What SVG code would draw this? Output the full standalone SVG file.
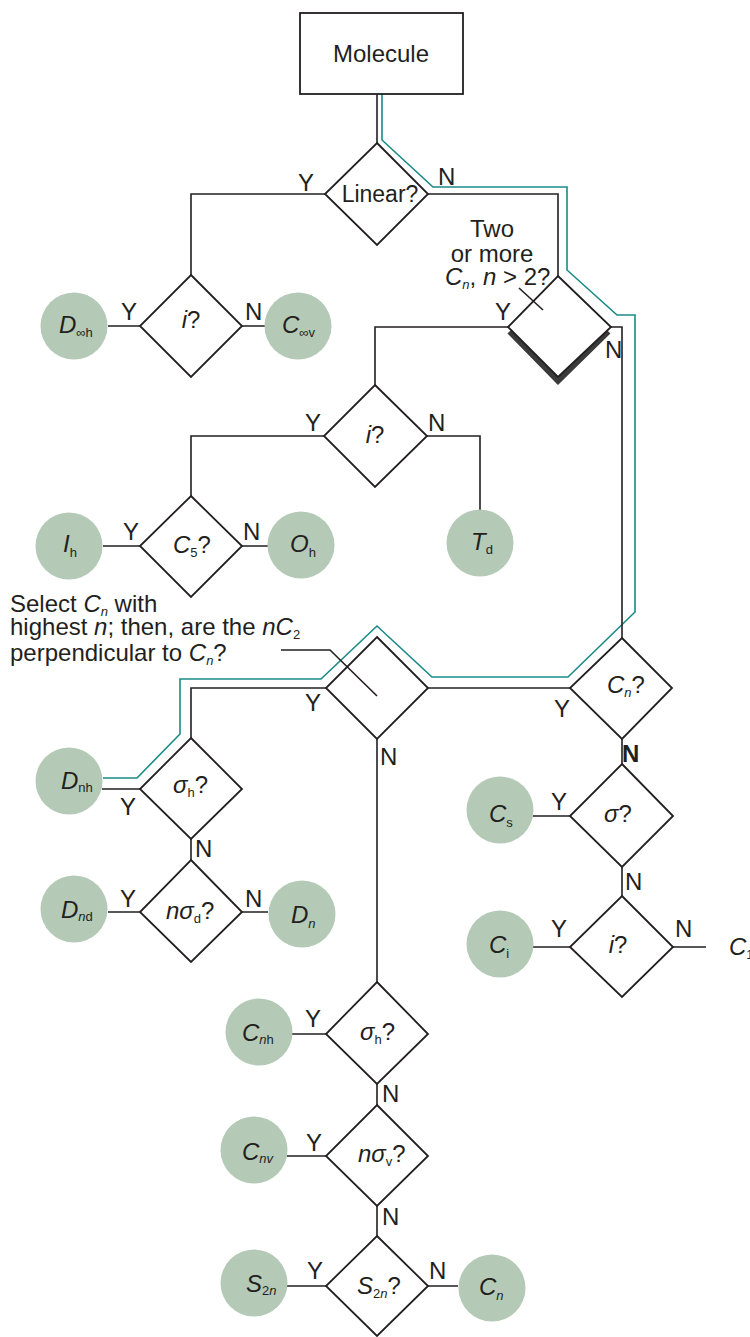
<svg xmlns="http://www.w3.org/2000/svg" width="750" height="1337" viewBox="0 0 750 1337">
<style>
text{font-family:"Liberation Sans",Arial,sans-serif;font-size:24px;fill:#231f20}
.it{font-style:italic}
.sub{font-size:13px}
.d{fill:#fff;stroke:#231f20;stroke-width:1.8}
.c{fill:#b4cab6}
.ln{fill:none;stroke:#231f20;stroke-width:1.6}
.teal{fill:none;stroke:#1b8a87;stroke-width:1.6}
</style>
<rect width="750" height="1337" fill="#fff"/>
<g id="connectors">
<path class="teal" d="M382,94 V140 L433,187 H567 V270 L617,315 H635 V612 L568,677 H432 L377,626 L321,679 H180 V734 L137,778 H103"/>
<path class="ln" d="M377,94 V143"/>
<path class="ln" d="M325,194 H191 V275"/>
<path class="ln" d="M140,326 H108 M242,326 H265"/>
<path class="ln" d="M428,194 H558 V276"/>
<path class="ln" d="M508,327 H375 V385"/>
<path class="ln" d="M611,327 H622 V638"/>
<path class="ln" d="M324,436 H191 V496 M427,436 H480 V510"/>
<path class="ln" d="M140,546 H103 M242,546 H268"/>
<path class="ln" d="M570,688 H428"/>
<path class="ln" d="M326,688 H191 V738"/>
<path class="ln" d="M140,789 H102 M191,839 V860"/>
<path class="ln" d="M140,912 H108 M242,912 H268"/>
<path class="ln" d="M622,739 V764 M570,816 H533 M622,867 V896"/>
<path class="ln" d="M570,947 H533 M673,947 H706"/>
<path class="ln" d="M377,739 V982"/>
<path class="ln" d="M326,1034 H292 M377,1084 V1105"/>
<path class="ln" d="M326,1156 H287 M377,1206 V1236"/>
<path class="ln" d="M326,1286 H287 M428,1286 H458"/>
</g>
<g id="molecule"><rect x="300" y="13" width="163" height="81" fill="#fff" stroke="#231f20" stroke-width="1.8"/><text x="381" y="62" text-anchor="middle">Molecule</text></g>
<g id="linear"><polygon class="d" points="377,143 428,194 377,245 325,194"/><text x="380" y="202" text-anchor="middle" style="font-size:23px">Linear?</text>
<text x="298" y="191">Y</text><text x="438" y="185">N</text></g>
<g id="inv1"><polygon class="d" points="191,275 242,326 191,377 140,326"/><text x="191" y="328" text-anchor="middle"><tspan class="it">i</tspan>?</text>
<text x="121" y="320">Y</text><text x="245" y="320">N</text></g>
<g id="dinfh"><circle class="c" cx="74" cy="326" r="33.5"/><text x="59" y="333"><tspan class="it">D</tspan><tspan class="sub" dy="4">∞h</tspan></text></g>
<g id="cinfv"><circle class="c" cx="298" cy="326" r="33.5"/><text x="282" y="333"><tspan class="it">C</tspan><tspan class="sub" dy="4">∞v</tspan></text></g>
<g id="twomore">
<polyline points="510,331 558,380 608,331" fill="none" stroke="#3a3a3a" stroke-width="7"/>
<polygon class="d" points="558,276 611,327 558,377 508,327"/>
<text x="492" y="237" text-anchor="middle">Two</text>
<text x="492" y="262" text-anchor="middle">or more</text>
<text x="445" y="285"><tspan class="it">C</tspan><tspan class="sub it" dy="4">n</tspan><tspan dy="-4">, </tspan><tspan class="it">n</tspan> &gt; 2?</text>
<path class="ln" d="M519,288 L543,310"/>
<text x="495" y="320">Y</text><text x="605" y="358">N</text></g>
<g id="inv2"><polygon class="d" points="375,385 427,436 375,487 324,436"/><text x="375" y="443" text-anchor="middle"><tspan class="it">i</tspan>?</text>
<text x="305" y="431">Y</text><text x="428" y="431">N</text></g>
<g id="td"><circle class="c" cx="480" cy="543" r="33.5"/><text x="471" y="550"><tspan class="it">T</tspan><tspan class="sub" dy="4">d</tspan></text></g>
<g id="c5"><polygon class="d" points="191,496 242,546 191,597 140,546"/><text x="173" y="553"><tspan class="it">C</tspan><tspan class="sub" dy="4">5</tspan><tspan dy="-4">?</tspan></text>
<text x="123" y="540">Y</text><text x="243" y="540">N</text></g>
<g id="ih"><circle class="c" cx="69" cy="546" r="33.5"/><text x="63" y="552"><tspan class="it">I</tspan><tspan class="sub" dy="5">h</tspan></text></g>
<g id="oh"><circle class="c" cx="301" cy="545" r="33.5"/><text x="290" y="552"><tspan class="it">O</tspan><tspan class="sub" dy="5">h</tspan></text></g>
<g id="select">
<text x="10" y="612">Select <tspan class="it">C</tspan><tspan class="sub it" dy="4">n</tspan><tspan dy="-4"> with</tspan></text>
<text x="10" y="635">highest <tspan class="it">n</tspan>; then, are the <tspan class="it">nC</tspan><tspan class="sub" dy="4">2</tspan></text>
<text x="10" y="661">perpendicular to <tspan class="it">C</tspan><tspan class="sub it" dy="4">n</tspan><tspan dy="-4">?</tspan></text>
<polygon class="d" points="377,637 428,688 377,739 326,688"/>
<path class="ln" d="M281,650 H330 L377,696"/>
<text x="305" y="711">Y</text><text x="380" y="765">N</text></g>
<g id="cnq"><polygon class="d" points="622,638 672,688 622,739 570,688"/><text x="607" y="693"><tspan class="it">C</tspan><tspan class="sub it" dy="4">n</tspan><tspan dy="-4">?</tspan></text>
<text x="554" y="717">Y</text><text x="622" y="762" font-weight="bold">N</text></g>
<g id="sigmah1"><polygon class="d" points="191,738 242,789 191,839 140,789"/><text x="173" y="793"><tspan class="it">σ</tspan><tspan class="sub" dy="4">h</tspan><tspan dy="-4">?</tspan></text>
<text x="120" y="815">Y</text><text x="195" y="857">N</text></g>
<g id="dnh"><circle class="c" cx="69" cy="781" r="33.5"/><text x="61" y="789"><tspan class="it">D</tspan><tspan class="sub" dy="3">nh</tspan></text></g>
<g id="nsigmad"><polygon class="d" points="191,860 242,912 191,962 140,912"/><text x="166" y="919"><tspan class="it">nσ</tspan><tspan class="sub" dy="4">d</tspan><tspan dy="-4">?</tspan></text>
<text x="120" y="907">Y</text><text x="245" y="907">N</text></g>
<g id="dnd"><circle class="c" cx="74" cy="909" r="33.5"/><text x="61" y="918"><tspan class="it">D</tspan><tspan class="sub" dy="3"><tspan class="it">n</tspan>d</tspan></text></g>
<g id="dn"><circle class="c" cx="302" cy="914" r="33.5"/><text x="291" y="923"><tspan class="it">D</tspan><tspan class="sub it" dy="5">n</tspan></text></g>
<g id="sigma"><polygon class="d" points="622,764 673,816 622,867 570,816"/><text x="618" y="822" text-anchor="middle"><tspan class="it">σ</tspan>?</text>
<text x="551" y="810">Y</text><text x="625" y="890">N</text></g>
<g id="cs"><circle class="c" cx="500" cy="810" r="33.5"/><text x="489" y="822"><tspan class="it">C</tspan><tspan class="sub" dy="5">s</tspan></text></g>
<g id="inv3"><polygon class="d" points="622,896 673,947 622,997 570,947"/><text x="618" y="953" text-anchor="middle"><tspan class="it">i</tspan>?</text>
<text x="551" y="937">Y</text><text x="675" y="937">N</text></g>
<g id="ci"><circle class="c" cx="500" cy="944" r="33.5"/><text x="489" y="953"><tspan class="it">C</tspan><tspan class="sub" dy="5">i</tspan></text></g>
<g id="c1"><text x="729" y="955"><tspan class="it">C</tspan><tspan class="sub" dy="4">1</tspan></text></g>
<g id="sigmah2"><polygon class="d" points="377,982 428,1034 377,1084 326,1034"/><text x="360" y="1040"><tspan class="it">σ</tspan><tspan class="sub" dy="4">h</tspan><tspan dy="-4">?</tspan></text>
<text x="305" y="1027">Y</text><text x="382" y="1102">N</text></g>
<g id="cnh"><circle class="c" cx="259" cy="1032" r="33.5"/><text x="242" y="1041"><tspan class="it">C</tspan><tspan class="sub" dy="3"><tspan class="it">n</tspan>h</tspan></text></g>
<g id="nsigmav"><polygon class="d" points="377,1105 428,1156 377,1206 326,1156"/><text x="358" y="1162"><tspan class="it">nσ</tspan><tspan class="sub" dy="4">v</tspan><tspan dy="-4">?</tspan></text>
<text x="306" y="1151">Y</text><text x="382" y="1225">N</text></g>
<g id="cnv"><circle class="c" cx="254" cy="1150" r="33.5"/><text x="242" y="1160"><tspan class="it">C</tspan><tspan class="sub it" dy="3">nv</tspan></text></g>
<g id="s2nq"><polygon class="d" points="377,1236 428,1286 377,1336 326,1286"/><text x="357" y="1294"><tspan class="it">S</tspan><tspan class="sub" dy="4">2<tspan class="it">n</tspan></tspan><tspan dy="-4">?</tspan></text>
<text x="307" y="1279">Y</text><text x="429" y="1279">N</text></g>
<g id="s2n"><circle class="c" cx="254" cy="1283" r="33.5"/><text x="246" y="1292"><tspan class="it">S</tspan><tspan class="sub" dy="3">2<tspan class="it">n</tspan></tspan></text></g>
<g id="cn"><circle class="c" cx="492" cy="1288" r="33.5"/><text x="479" y="1295"><tspan class="it">C</tspan><tspan class="sub it" dy="5">n</tspan></text></g>
</svg>
